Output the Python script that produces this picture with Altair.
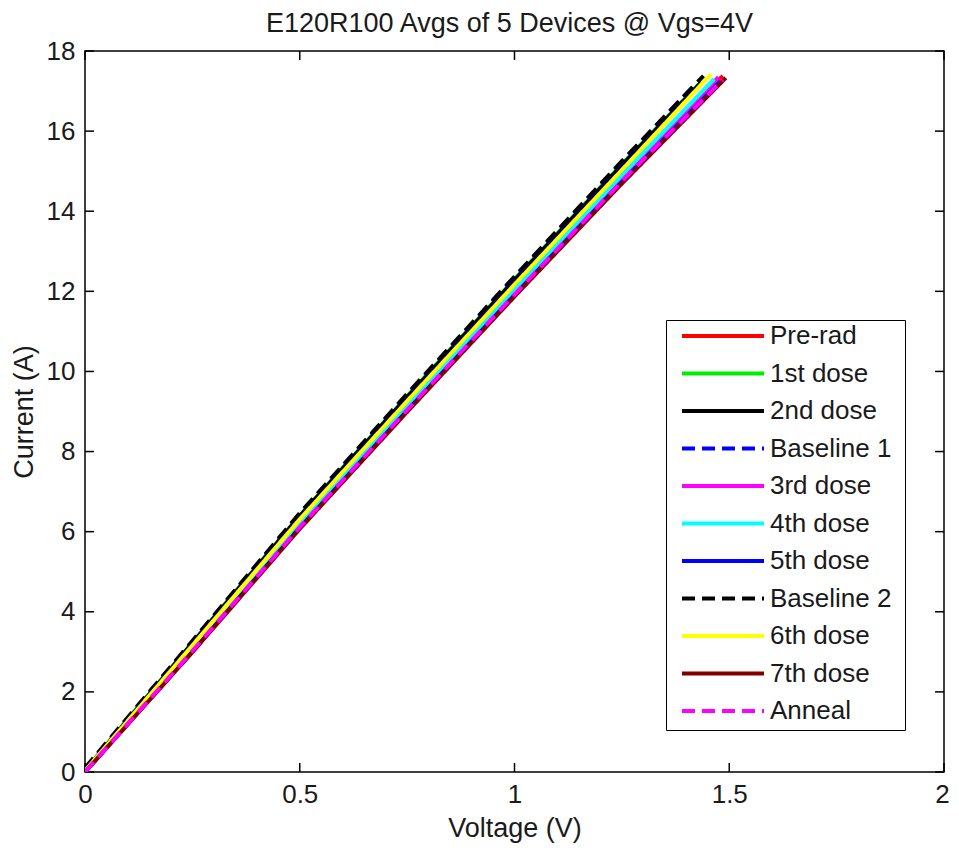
import altair as alt
import pandas as pd

# ---- data ----
series_names = ["Pre-rad", "1st dose", "2nd dose", "Baseline 1", "3rd dose",
                "4th dose", "5th dose", "Baseline 2", "6th dose", "7th dose", "Anneal"]
series_colors = ["#ff0000", "#00ee00", "#000000", "#0000ff", "#ff00ff",
                 "#00ffff", "#0000ff", "#000000", "#ffff00", "#800000", "#ff00ff"]
series_dashed = [False, False, False, True, False, False, False, True, False, False, True]

v_grid = [0.0, 0.25, 0.5, 0.75, 1.0, 1.25]
v_end = {
    "Pre-rad": 1.485, "1st dose": 1.43, "2nd dose": 1.435, "Baseline 1": 1.425,
    "3rd dose": 1.475, "4th dose": 1.465, "5th dose": 1.48, "Baseline 2": 1.44,
    "6th dose": 1.457, "7th dose": 1.492, "Anneal": 1.485,
}
i_vals = {
    "Pre-rad":    [0.00, 3.03, 6.12, 9.06, 11.94, 14.77, 17.38],
    "1st dose":   [0.05, 3.23, 6.40, 9.38, 12.30, 15.17, 17.18],
    "2nd dose":   [0.03, 3.22, 6.39, 9.36, 12.28, 15.15, 17.22],
    "Baseline 1": [0.08, 3.26, 6.45, 9.42, 12.35, 15.23, 17.22],
    "3rd dose":   [0.00, 3.06, 6.17, 9.10, 11.99, 14.83, 17.35],
    "4th dose":   [0.02, 3.10, 6.22, 9.16, 12.06, 14.90, 17.30],
    "5th dose":   [0.00, 3.01, 6.10, 9.02, 11.90, 14.73, 17.25],
    "Baseline 2": [0.10, 3.27, 6.46, 9.44, 12.37, 15.25, 17.38],
    "6th dose":   [0.03, 3.16, 6.31, 9.26, 12.17, 15.03, 17.42],
    "7th dose":   [0.00, 2.99, 6.07, 8.99, 11.87, 14.69, 17.33],
    "Anneal":     [0.00, 3.02, 6.11, 9.04, 11.92, 14.75, 17.28],
}

x_ticks = [0, 0.5, 1, 1.5, 2]
y_ticks = [0, 2, 4, 6, 8, 10, 12, 14, 16, 18]

rows = []
for k, name in enumerate(series_names):
    vs = v_grid + [v_end[name]]
    for j, (v, i) in enumerate(zip(vs, i_vals[name])):
        rows.append({"series": name, "V": v, "I": i, "order": k * 100 + j})
df = pd.DataFrame(rows)

W, H = 859, 721
FONT = "Liberation Sans"
TXT = "#1a1a1a"
TL = 9

x_scale = alt.Scale(domain=[0, 2], nice=False, zero=False)
y_scale = alt.Scale(domain=[0, 18], nice=False, zero=False)

x_axis = alt.Axis(values=x_ticks, format="~g", title="Voltage (V)", grid=False, domain=False,
                  ticks=False, tickSize=0, labelPadding=9, labelFlush=False, titlePadding=8,
                  labelOffset={"condition": {"test": "datum.value == 2", "value": -2}, "value": 0},
                  labelFontSize=26, titleFontSize=27, labelFont=FONT, titleFont=FONT,
                  titleFontWeight="normal", labelColor=TXT, titleColor=TXT)
y_axis = alt.Axis(values=y_ticks, format="~g", title="Current (A)", grid=False, domain=False,
                  ticks=False, tickSize=0, labelPadding=10, labelFlush=False, titlePadding=8,
                  labelFontSize=26, titleFontSize=27, labelFont=FONT, titleFont=FONT,
                  titleFontWeight="normal", labelColor=TXT, titleColor=TXT)

dash_range = [[13, 7] if d else [1, 0] for d in series_dashed]

legend = alt.Legend(orient="none", legendX=581, legendY=269, symbolType="stroke",
                    symbolSize=6724, symbolStrokeWidth=4, clipHeight=20, rowPadding=11.5,
                    symbolOffset=8, labelFontSize=26, labelFont=FONT, labelColor=TXT,
                    labelOffset=4, padding=6, strokeColor="black", fillColor="white",
                    labelExpr="datum.label + '\u00a0\u200b'")

lines = alt.Chart(df).mark_line(strokeWidth=4, clip=True).encode(
    x=alt.X("V:Q", scale=x_scale, axis=x_axis),
    y=alt.Y("I:Q", scale=y_scale, axis=y_axis),
    color=alt.Color("series:N", scale=alt.Scale(domain=series_names, range=series_colors),
                    legend=legend, title=None),
    strokeDash=alt.StrokeDash("series:N", scale=alt.Scale(domain=series_names, range=dash_range),
                              legend=legend, title=None),
    order=alt.Order("order:Q"),
)

xt = pd.DataFrame({"V": x_ticks})
yt = pd.DataFrame({"I": y_ticks})

xb = alt.Chart(xt).mark_rule(color="black", strokeWidth=1.5).encode(
    x=alt.X("V:Q", scale=x_scale, axis=x_axis), y=alt.value(H), y2=alt.value(H - TL))
xtop = alt.Chart(xt).mark_rule(color="black", strokeWidth=1.5).encode(
    x=alt.X("V:Q", scale=x_scale, axis=x_axis), y=alt.value(0), y2=alt.value(TL))
yl = alt.Chart(yt).mark_rule(color="black", strokeWidth=1.5).encode(
    y=alt.Y("I:Q", scale=y_scale, axis=y_axis), x=alt.value(0), x2=alt.value(TL))
yr = alt.Chart(yt).mark_rule(color="black", strokeWidth=1.5).encode(
    y=alt.Y("I:Q", scale=y_scale, axis=y_axis), x=alt.value(W), x2=alt.value(W - TL))

chart = alt.layer(xb, xtop, yl, yr, lines).properties(
    width=W, height=H,
    autosize=alt.AutoSizeParams(type="none"),
    padding={"left": 77, "top": 43, "right": 7, "bottom": 72},
    title=alt.TitleParams("E120R100 Avgs of 5 Devices @ Vgs=4V", fontSize=27, font=FONT,
                          fontWeight="normal", color=TXT, anchor="middle", frame="group",
                          offset=0, dx=-5),
).configure(background="white").configure_view(stroke="black", strokeWidth=1.5)

chart.save("out.html", embed_options={"renderer": "svg", "actions": False})
